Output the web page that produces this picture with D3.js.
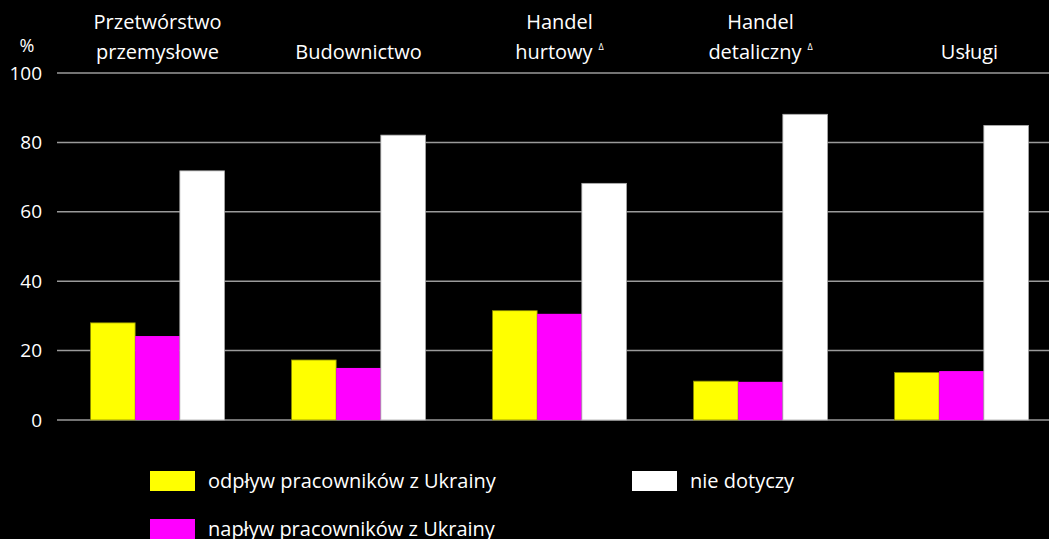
<!DOCTYPE html>
<html><head><meta charset="utf-8">
<script src="https://cdn.jsdelivr.net/npm/d3@7"></script>
<style>
html,body{margin:0;padding:0;background:#000;overflow:hidden}
text{font-family:"Open Sans","Noto Sans",sans-serif;fill:#fff}
</style></head>
<body><svg id="c" width="1049" height="539"></svg>
<script>
const categories = [["Przetwórstwo","przemysłowe"],["Budownictwo"],["Handel","hurtowy"],["Handel","detaliczny"],["Usługi"]];
const categoryMarks = ["", "", "Δ", "Δ", ""];
const seriesNames = ["odpływ pracowników z Ukrainy","napływ pracowników z Ukrainy","nie dotyczy"];
const seriesColors = ["#ffff00","#ff00ff","#ffffff"];
const outflow = [28.0, 17.3, 31.5, 11.2, 13.7];
const inflow  = [24.2, 15.0, 30.6, 11.0, 14.1];
const notApplicable = [71.8, 82.1, 68.2, 88.1, 84.9];
const yTicks = [0,20,40,60,80,100];

const series = [outflow, inflow, notApplicable];
const svg = d3.select("#c");
const x0 = d3.scaleBand().domain(d3.range(categories.length)).range([57, 57+5*201]).paddingInner(1/3).paddingOuter(1/6);
const x1 = d3.scaleBand().domain(d3.range(series.length)).range([0, x0.bandwidth()]);
const y = d3.scaleLinear().domain([0,100]).range([420,73]);

// grid
svg.append("g").selectAll("line").data(yTicks).join("line")
  .attr("x1",57).attr("x2",1049).attr("y1",d=>y(d)).attr("y2",d=>y(d))
  .attr("stroke","#9a9a9a").attr("stroke-width",1.5);
// y tick labels
svg.append("g").selectAll("text").data(yTicks).join("text")
  .attr("x",42).attr("y",d=>y(d)).attr("dy","0.35em").attr("text-anchor","end")
  .attr("font-size",19).text(d=>d);
svg.append("text").attr("x",27).attr("y",46).attr("dy","0.35em").attr("text-anchor","middle").attr("font-size",18).text("%");

// bars
const g = svg.append("g").selectAll("g").data(categories).join("g")
  .attr("transform",(d,i)=>`translate(${x0(i)},0)`);
g.selectAll("rect").data((d,i)=>series.map((s,j)=>({j,v:s[i]}))).join("rect")
  .attr("x",d=>x1(d.j)).attr("width",x1.bandwidth())
  .attr("y",d=>y(d.v)).attr("height",d=>y(0)-y(d.v))
  .attr("fill",d=>seriesColors[d.j])
  .attr("stroke",d=>d.j===0?"#8a8a00":(d.j===2?"#aaa":"none")).attr("stroke-width",0.8);

// category headers
const hdrShift = i => (i===categories.length-1 ? 8 : 0);
const hdr = svg.append("g").selectAll("g").data(categories).join("g")
  .attr("transform",(d,i)=>`translate(${x0(i)+x0.bandwidth()/2+hdrShift(i)},0)`);
hdr.each(function(lines,i){
  const n = lines.length;
  lines.forEach((t,k)=>{
    const yy = n===2 ? (k===0?22:52) : 52;
    const tx = d3.select(this).append("text").attr("x",0).attr("y",yy).attr("dy","0.35em")
      .attr("text-anchor","middle").attr("font-size",20).text(t);
    if (k===n-1 && categoryMarks[i]) {
      tx.append("tspan").attr("font-size",9).attr("dx",6).attr("dy","-1em").text(categoryMarks[i]);
    }
  });
});

// legend
const legendPos = [[150,481],[150,529],[632,481]];
const lg = svg.append("g").selectAll("g").data(seriesNames).join("g")
  .attr("transform",(d,i)=>`translate(${legendPos[i][0]},${legendPos[i][1]})`);
lg.append("rect").attr("x",0).attr("y",-10).attr("width",45).attr("height",20).attr("fill",(d,i)=>seriesColors[i]);
lg.append("text").attr("x",58).attr("y",0).attr("dy","0.35em").attr("font-size",20).text(d=>d);
</script></body></html>
